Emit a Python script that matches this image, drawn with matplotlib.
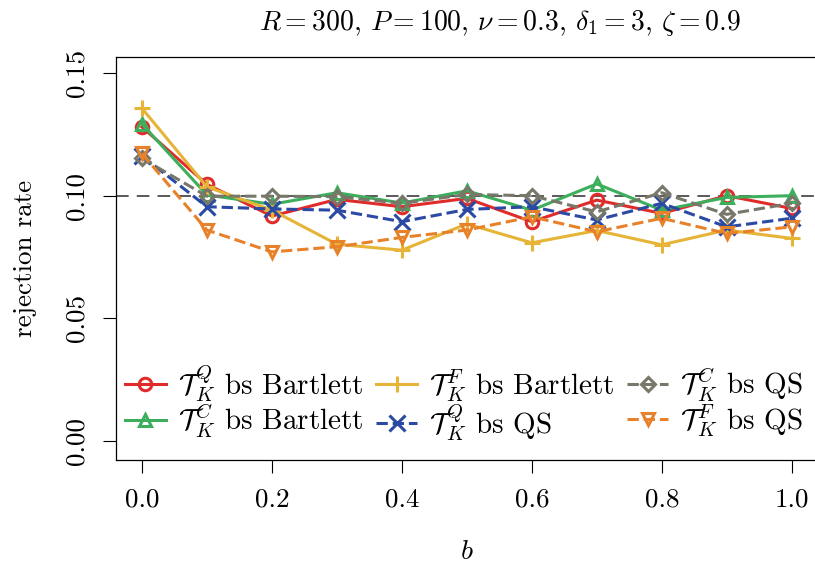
import numpy as np
import matplotlib
matplotlib.use("Agg")
import matplotlib.pyplot as plt

plt.rcParams['font.family'] = 'cmr10'
plt.rcParams['mathtext.fontset'] = 'cm'
plt.rcParams['axes.formatter.use_mathtext'] = True

b = [0.0, 0.1, 0.2, 0.3, 0.4, 0.5, 0.6, 0.7, 0.8, 0.9, 1.0]

tq_bart = [0.128, 0.1046, 0.0917, 0.0985, 0.0955, 0.0989, 0.0894, 0.0982, 0.0928, 0.1000, 0.0948]
tc_bart = [0.1292, 0.1003, 0.0965, 0.1012, 0.0970, 0.1020, 0.0941, 0.1048, 0.0941, 0.0993, 0.1000]
tf_bart = [0.1356, 0.1036, 0.0941, 0.0802, 0.0778, 0.0885, 0.0808, 0.0858, 0.0800, 0.0860, 0.0826]
tq_qs = [0.1162, 0.0955, 0.0946, 0.0941, 0.0894, 0.0944, 0.0955, 0.0901, 0.0969, 0.0873, 0.0908]
tc_qs = [0.1152, 0.0998, 0.0998, 0.0996, 0.0969, 0.1005, 0.1000, 0.0934, 0.1012, 0.0924, 0.0969]
tf_qs = [0.1172, 0.0860, 0.0771, 0.0792, 0.0830, 0.0860, 0.0914, 0.0853, 0.0908, 0.0846, 0.0873]

series = [tq_bart, tc_bart, tf_bart, tq_qs, tc_qs, tf_qs]
labels = [r'$\mathcal{T}_K^Q$ bs Bartlett', r'$\mathcal{T}_K^C$ bs Bartlett',
          r'$\mathcal{T}_K^F$ bs Bartlett', r'$\mathcal{T}_K^Q$ bs QS',
          r'$\mathcal{T}_K^C$ bs QS', r'$\mathcal{T}_K^F$ bs QS']
colors = ['#E02B2B', '#3DAE5B', '#E6B436', '#2A4AA3', '#77776A', '#E8822A']
markers = ['o', '^', '+', 'x', 'D', 'v']
styles = ['-', '-', '-', '--', '--', '--']

fig = plt.figure(figsize=(8.15, 5.66), dpi=100)
ax = fig.add_axes([0.1423, 0.1864, 0.861, 0.7124])

ax.axhline(0.1, color='#4D4D4D', lw=1.3, ls=(0, (7, 4.5)), zorder=1)

for y, lab, c, m, s in zip(series, labels, colors, markers, styles):
    ms = 11 if m in ('+', 'x') else 9
    if m == 'D':
        ms = 7.5
    ax.plot(b, y, color=c, ls=s, lw=2.2, marker=m, markersize=ms,
            markerfacecolor='none', markeredgecolor=c, markeredgewidth=2.2,
            label=lab, zorder=3)

ax.set_xlim(-0.04, 1.04)
ax.set_ylim(-0.0079, 0.1564)
ax.set_xticks([0.0, 0.2, 0.4, 0.6, 0.8, 1.0])
ax.set_xticklabels(['0.0', '0.2', '0.4', '0.6', '0.8', '1.0'])
ax.set_yticks([0.0, 0.05, 0.10, 0.15])
ax.set_yticklabels(['0.00', '0.05', '0.10', '0.15'], rotation=90, va='center')
ax.tick_params(axis='both', direction='out', length=9.5, width=0.8,
               labelsize=19.5, pad=10)
for sp in ax.spines.values():
    sp.set_linewidth(0.9)

ax.set_xlabel(r'$b$', fontsize=20, labelpad=20)
ax.set_ylabel('rejection rate', fontsize=19.5, labelpad=20)
ax.set_title(r'$R = 300$, $P = 100$, $\nu = 0.3$, $\delta_1 = 3$, $\zeta = 0.9$',
             fontsize=20, pad=20, x=0.547)

ax.legend(loc='lower left', bbox_to_anchor=(-0.012, 0.0), ncol=3, frameon=False,
          fontsize=21, handlelength=1.4, handletextpad=0.4, columnspacing=0.45,
          labelspacing=-0.05, borderaxespad=0.2)

fig.savefig('out.png', dpi=100)
